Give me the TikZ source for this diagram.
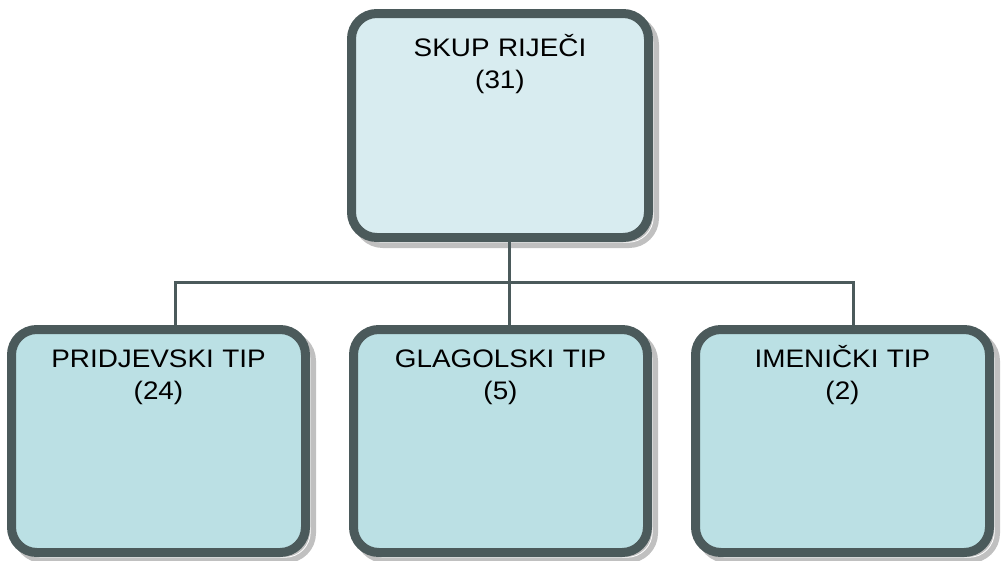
\documentclass[tikz,border=0pt]{standalone}
\usepackage{fontspec}
\setmainfont{Liberation Sans}[FakeStretch=1.1]
\usetikzlibrary{shadows}

\definecolor{edgegray}{RGB}{75,90,91}
\definecolor{shadegray}{RGB}{192,192,192}
\definecolor{topfill}{RGB}{216,236,240}
\definecolor{subfill}{RGB}{187,224,228}

\begin{document}
\begin{tikzpicture}[x=0.75pt,y=-0.75pt,
  box/.style={draw=edgegray,line width=6.75pt,rectangle,rounded corners=19pt,
    inner sep=0pt,align=center,text width=200pt,
    font=\fontsize{19}{24}\selectfont,
    general shadow={shadow xshift=4.5pt,shadow yshift=-4.5pt,draw=shadegray,line width=6.75pt},
    general shadow={shadow xshift=3.6pt,shadow yshift=-3.6pt,draw=white,line width=0.6pt}},
  headbox/.style={box,fill=topfill,minimum width=222.75pt,minimum height=168pt,
    text height=32.6pt,text depth=135.4pt},
  subbox/.style={box,fill=subfill,minimum width=220.5pt,minimum height=167.25pt,
    text height=28.1pt,text depth=139.1pt},
  link/.style={draw=edgegray,line width=2.25pt}]

\useasboundingbox (0,0) rectangle (1001,561);

\node[headbox] (1) at (500,125.5) {SKUP RIJEČI\\(31)};

\node[subbox] (2) at (158.5,441) {PRIDJEVSKI TIP\\(24)};
\node[subbox] (3) at (500.5,441) {GLAGOLSKI TIP\\(5)};
\node[subbox] (4) at (842.5,441) {IMENIČKI TIP\\(2)};

\coordinate (split) at (509,282);
\coordinate (left) at (175,282);
\coordinate (right) at (853,282);

\path[link]
(1.south -| split) -- (split)
(split) -- (split |- 3.north)
(left |- 2.north) -- (left) -- (right) -- (right |- 4.north);

\end{tikzpicture}
\end{document}
